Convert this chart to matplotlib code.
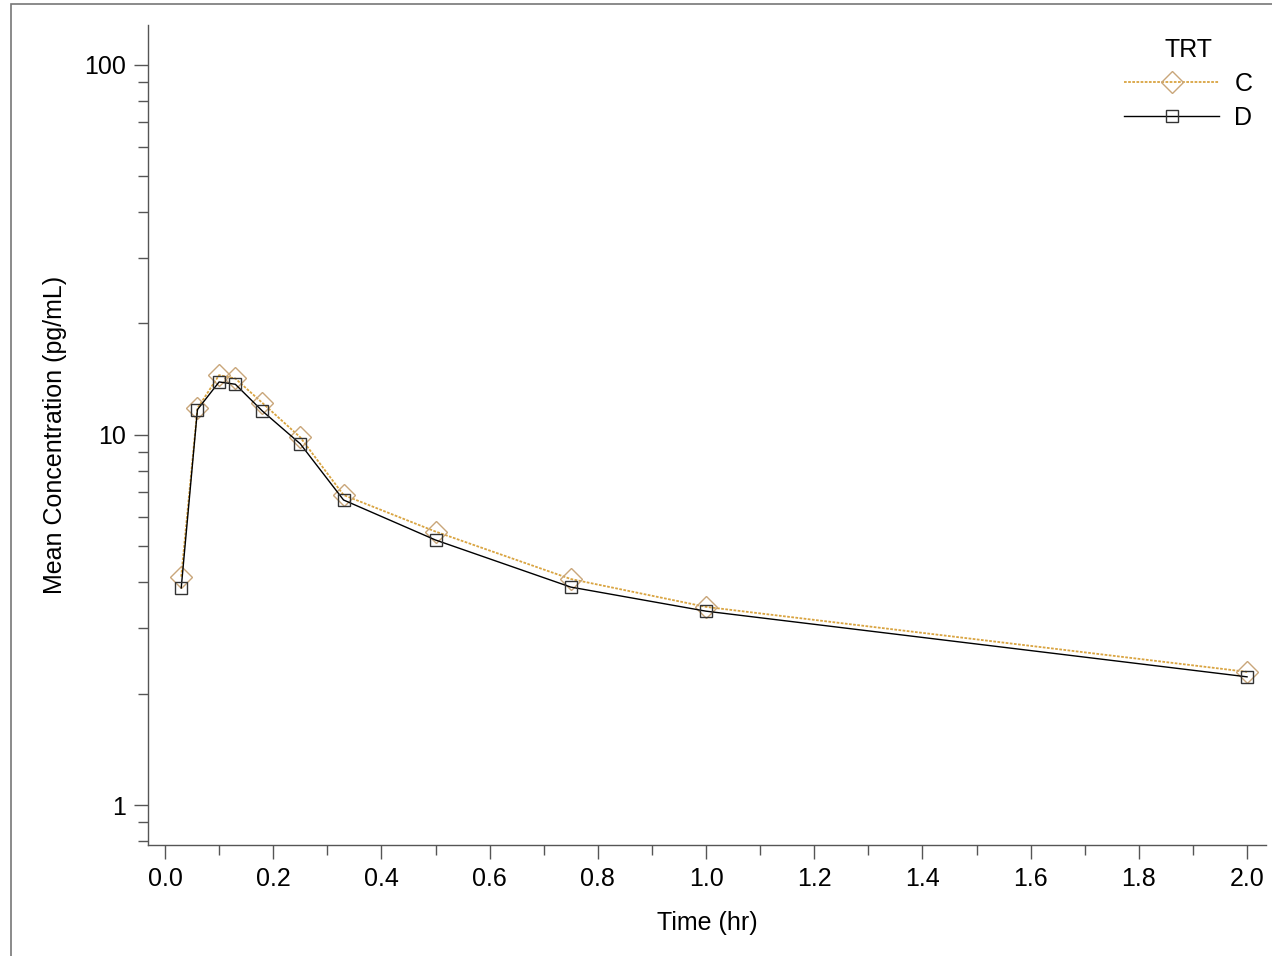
import matplotlib
matplotlib.use("Agg")
import matplotlib.pyplot as plt
from matplotlib.ticker import FixedLocator, LogLocator, NullFormatter, MultipleLocator
from matplotlib.patches import Rectangle

plt.rcParams['font.family'] = ['Liberation Sans', 'DejaVu Sans']

# mean concentration by time point, per treatment
time_hr = [0.03, 0.06, 0.10, 0.13, 0.18, 0.25, 0.33, 0.50, 0.75, 1.00, 2.00]
conc_C = [4.14, 11.8, 14.5, 14.2, 12.2, 9.85, 6.88, 5.48, 4.08, 3.43, 2.29]
conc_D = [3.86, 11.7, 13.9, 13.7, 11.6, 9.46, 6.67, 5.20, 3.88, 3.34, 2.22]
y_ticks = [1, 10, 100]
y_tick_labels = ['1', '10', '100']

fig = plt.figure(figsize=(12.72, 9.56), dpi=100)
ax = fig.add_axes([148/1272, 1 - 845/956, (1266 - 148)/1272, (845 - 25)/956])

# outer frame of the graph
fig.patches.append(Rectangle((11/1272, -0.1), 1.2, 1 - 4/956 + 0.1,
                             transform=fig.transFigure, fill=False,
                             edgecolor='#777777', linewidth=1.2))

ax.plot(time_hr, conc_C, color='#D9A441', linestyle=(0, (1.5, 0.8)), linewidth=1.3,
        marker='D', markersize=11.5, markerfacecolor='none', markeredgecolor='#C9A67A',
        markeredgewidth=1.0, label='C', zorder=2)
ax.plot(time_hr, conc_D, color='black', linewidth=1.0,
        marker='s', markersize=9, markerfacecolor='none', markeredgecolor='#333333',
        markeredgewidth=1.0, label='D', zorder=3)

ax.set_yscale('log')
ax.set_xlim(-0.0314, 2.035)
ax.set_ylim(0.78, 128)

ax.yaxis.set_major_locator(FixedLocator(y_ticks))
ax.set_yticklabels(y_tick_labels)
ax.yaxis.set_minor_locator(LogLocator(base=10, subs=range(2, 10)))
ax.yaxis.set_minor_formatter(NullFormatter())
ax.xaxis.set_major_locator(MultipleLocator(0.2))
ax.xaxis.set_minor_locator(MultipleLocator(0.1))
ax.xaxis.set_major_formatter(plt.FuncFormatter(lambda v, p: f'{v:.1f}'))

for s in ['top', 'right']:
    ax.spines[s].set_visible(False)
for s in ['left', 'bottom']:
    ax.spines[s].set_color('#555555')
    ax.spines[s].set_linewidth(1.0)

ax.tick_params(which='major', length=10, width=1, color='#555555', labelsize=18, pad=6)
ax.tick_params(which='minor', length=7, width=1, color='#555555')

ax.set_xlabel('Time (hr)', fontsize=18, labelpad=14)
ax.set_ylabel('Mean Concentration (pg/mL)', fontsize=18, labelpad=12)

leg = ax.legend(title='TRT', loc='upper right', bbox_to_anchor=(1.008, 1.012), frameon=False,
                fontsize=18, title_fontsize=18, handlelength=3.8, handletextpad=0.6,
                labelspacing=0.4)

fig.savefig('out.png', dpi=100)
